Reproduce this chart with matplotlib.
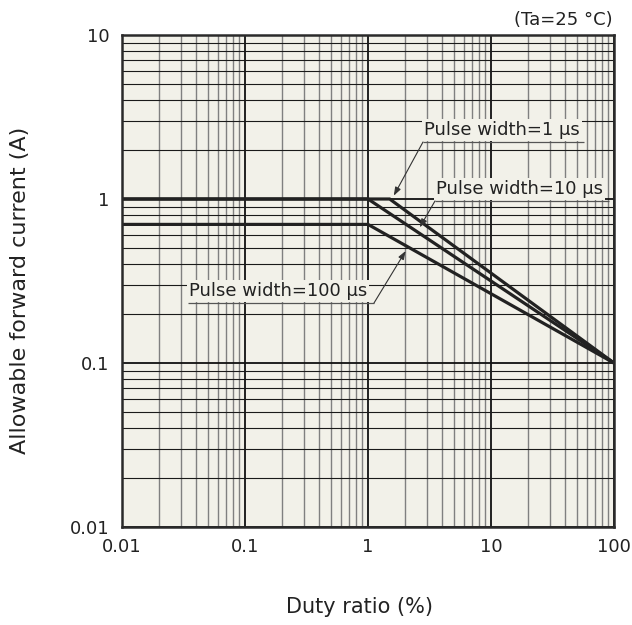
import numpy as np
import matplotlib.pyplot as plt
from matplotlib.ticker import LogLocator, NullFormatter, FixedFormatter, FixedLocator

# Allowable forward current vs duty ratio for three pulse widths
pw1_duty = [0.01, 1.5, 100]
pw1_current = [1.0, 1.0, 0.1]

pw10_duty = [0.01, 1.0, 100]
pw10_current = [1.0, 1.0, 0.1]

pw100_duty = [0.01, 1.0, 100]
pw100_current = [0.7, 0.7, 0.1]

x_ticks = [0.01, 0.1, 1, 10, 100]
x_tick_labels = ["0.01", "0.1", "1", "10", "100"]
y_ticks = [0.01, 0.1, 1, 10]
y_tick_labels = ["0.01", "0.1", "1", "10"]

BG = "#f2f1e9"
INK = "#222222"

W, H = 632, 625
fig = plt.figure(figsize=(W / 100, H / 100), dpi=100)
ax = fig.add_axes([122 / W, 1 - 527 / H, 492 / W, 492 / H])
ax.set_facecolor(BG)
ax.set_xscale("log")
ax.set_yscale("log")
ax.set_xlim(0.01, 100)
ax.set_ylim(0.01, 10)

# grid: black major lines, grey minor verticals, dark minor horizontals
ax.xaxis.set_minor_locator(LogLocator(base=10, subs=np.arange(2, 10)))
ax.yaxis.set_minor_locator(LogLocator(base=10, subs=np.arange(2, 10)))
ax.xaxis.set_minor_formatter(NullFormatter())
ax.yaxis.set_minor_formatter(NullFormatter())
ax.grid(True, which="major", axis="both", color="#111111", lw=1.3)
ax.grid(True, which="minor", axis="x", color="#808080", lw=1.0)
ax.grid(True, which="minor", axis="y", color="#1a1a1a", lw=0.8)
ax.set_axisbelow(True)

ax.xaxis.set_major_locator(FixedLocator(x_ticks))
ax.xaxis.set_major_formatter(FixedFormatter(x_tick_labels))
ax.yaxis.set_major_locator(FixedLocator(y_ticks))
ax.yaxis.set_major_formatter(FixedFormatter(y_tick_labels))
ax.tick_params(which="both", length=0, labelsize=13, colors=INK)
ax.tick_params(axis="x", pad=8)
ax.tick_params(axis="y", pad=9)

for sp in ax.spines.values():
    sp.set_linewidth(1.8)
    sp.set_color("#2a2a2a")
    sp.set_zorder(5)

# curves
for xs, ys in [(pw1_duty, pw1_current), (pw10_duty, pw10_current),
               (pw100_duty, pw100_current)]:
    ax.plot(xs, ys, color=INK, lw=2.3, solid_joinstyle="miter", zorder=3)


def px(x, y):
    # pixel position -> axes fraction
    return ((x - 122) / 492, (527 - y) / 492)


def callout(text, left, right, base, start, tip):
    x0, y0 = px(left, base)
    x1, _ = px(right, base)
    tx, _ = px(left + 1, base)
    _, ty = px(0, base - 3)
    ax.text(tx, ty, text, transform=ax.transAxes, fontsize=13, color=INK,
            ha="left", va="bottom", zorder=6,
            bbox=dict(boxstyle="square,pad=0.12", fc=BG, ec="none"))
    ax.plot([x0, x1], [y0, y0], transform=ax.transAxes, color="#555555",
            lw=0.9, zorder=7, solid_capstyle="butt")
    ax.annotate("", xy=tip, xycoords="data", xytext=px(*start),
                textcoords="axes fraction", zorder=7,
                arrowprops=dict(arrowstyle="-|>,head_length=0.5,head_width=0.18",
                                color="#333333", lw=0.8,
                                shrinkA=0, shrinkB=1))


callout("Pulse width=1 μs", 423, 584, 142, (423, 142), (1.6, 1.03))
callout("Pulse width=10 μs", 435, 609, 201, (435, 201), (2.6, 0.66))
callout("Pulse width=100 μs", 188, 374, 303, (374, 303), (2.05, 0.49))

fig.text(613 / W, 1 - 20 / H, "(Ta=25 °C)", ha="right", va="center",
         fontsize=13, color=INK)
fig.text(20 / W, 1 - 290 / H, "Allowable forward current (A)", rotation=90,
         ha="center", va="center", fontsize=16, color=INK)
fig.text(360 / W, 1 - 607 / H, "Duty ratio (%)", ha="center", va="center",
         fontsize=15, color=INK)

fig.savefig("out.png", dpi=100, facecolor="white")
